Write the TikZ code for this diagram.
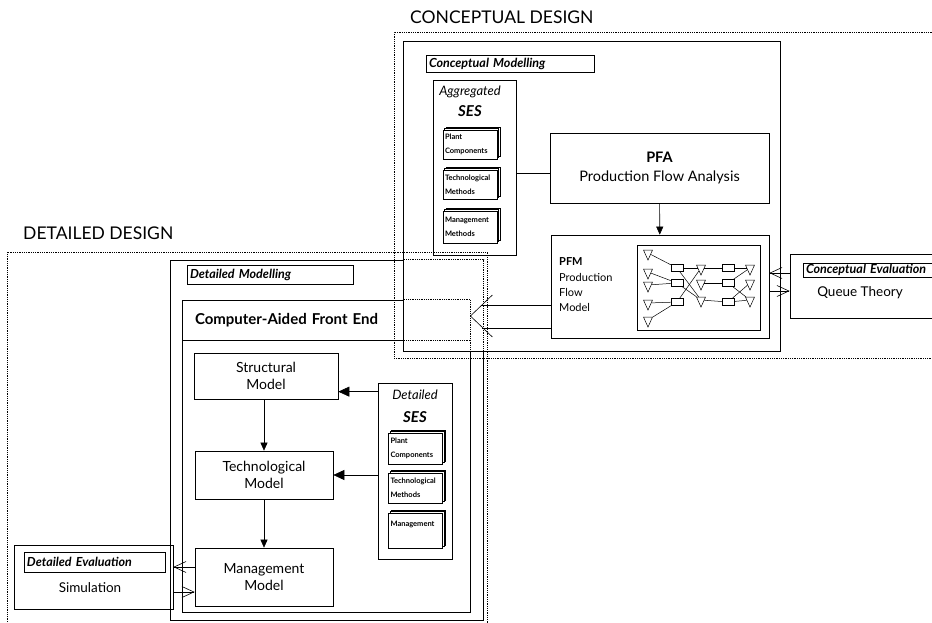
\documentclass[tikz,border=0pt]{standalone}
\usepackage{fontspec}
\setmainfont{Lato}
\usetikzlibrary{arrows.meta, positioning, shapes.geometric, shadows}

\begin{document}
\begin{tikzpicture}[x=1pt, y=-1pt,
  frame/.style={draw, line width=1pt, inner sep=0pt},
  box/.style={draw, line width=0.7pt, inner sep=0pt, align=center,
              font=\fontsize{14}{17}\selectfont},
  tag/.style={draw, line width=0.7pt, inner xsep=3pt, inner ysep=0pt,
              align=left, font=\fontsize{12.5}{13}\selectfont\bfseries\itshape},
  card/.style={draw, fill=white, line width=0.5pt,
               double copy shadow={shadow xshift=1.5pt, shadow yshift=1.5pt},
               inner xsep=2pt, inner ysep=0pt, text width=50pt, align=left,
               font=\fontsize{7.5}{14}\selectfont\bfseries},
  region/.style={draw, densely dotted, line width=0.8pt, inner sep=0pt},
  hidden/.style={densely dotted, line width=0.8pt},
  tri/.style={draw, isosceles triangle, shape border rotate=270,
              isosceles triangle stretches, minimum width=9, minimum height=10,
              inner sep=0pt, line width=0.5pt},
  sq/.style={draw, minimum width=12, minimum height=7, inner sep=0pt, line width=0.5pt},
  fillarrow/.style={-{Triangle[length=8pt, width=7pt]}, line width=0.6pt},
  bigarrow/.style={-{Triangle[length=11pt, width=10pt]}, line width=0.6pt},
  openarrow/.style={-{Straight Barb[length=12pt, width=11pt]}, line width=0.6pt},
  title/.style={anchor=west, inner sep=0pt, font=\fontsize{17.5}{19}\selectfont}
]
  \useasboundingbox (0,0) rectangle (932,623);
  \clip (0,0) rectangle (932,623);

  % detailed modelling
  \node[frame, minimum width=313, minimum height=360] (dmod) at (326.5,440) {};
  \node[tag, text width=160pt, minimum height=19] (dmodlbl) at (270,274.5) {Detailed Modelling};
  \node[draw, line width=0.8pt, minimum width=288, minimum height=312, inner sep=0pt] (fe) at (326,456) {};
  \node[draw, line width=0.8pt, minimum width=288, minimum height=40, inner xsep=13pt,
        text width=262pt, align=left, font=\fontsize{15}{17}\selectfont\bfseries]
        (fehead) at (326,320) {Computer-Aided Front End};
  \node[box, minimum width=144, minimum height=46] (struct) at (266,376) {Structural\\Model};
  \node[box, minimum width=138, minimum height=48] (tech) at (264,475) {Technological\\Model};
  \node[box, minimum width=138, minimum height=58] (mgmt) at (264,577) {Management\\Model};

  \node[draw, line width=0.7pt, minimum width=74, minimum height=176] (dses) at (415,471) {};
  \node[font=\fontsize{13}{15}\selectfont\itshape] (dsest) at (415,395) {Detailed};
  \node[font=\fontsize{15}{17}\selectfont\bfseries\itshape] (dsess) at (415,417) {SES};
  \node[card, minimum height=31] (dc1) at (415.5,448.5) {Plant\\Components};
  \node[card, minimum height=30] (dc2) at (415.5,488) {Technological\\Methods};
  \node[card, minimum height=35] (dc3) at (415.5,530.5) {Management\\ \mbox{}};

  \draw[fillarrow] (tech.north |- struct.south) -- (tech.north);
  \draw[fillarrow] (tech) -- (mgmt);
  \path ([yshift=-9pt]dses.north west) coordinate (s1);
  \draw[bigarrow] (s1) -- (s1 -| struct.east);
  \draw[bigarrow] (dses.west |- tech.east) -- (tech.east);

  % detailed evaluation
  \node[draw, line width=0.7pt, minimum width=159, minimum height=64] (sim) at (93.5,577) {};
  \node[tag, text width=135pt, minimum height=20] (simlbl) at (94.5,562) {Detailed Evaluation};
  \node[font=\fontsize{13.5}{15}\selectfont] (simtxt) at (90,588) {Simulation};
  \draw[openarrow] ([yshift=10pt]mgmt.west) -- ([yshift=10pt]sim.east);
  \draw[openarrow] ([yshift=-15pt]sim.east) -- ([yshift=-15pt]mgmt.west);

  % conceptual modelling
  \node[frame, fill=white, minimum width=377, minimum height=309] (cmod) at (591.5,196.5) {};
  \draw[hidden] (cmod.west |- dmod.north) -- (dmod.north east) -- (dmod.east |- cmod.south);
  \draw[hidden] (cmod.west |- fe.north) -- (fe.north east) -- (fe.east |- cmod.south);
  \draw[hidden] (cmod.west |- fehead.south) -- (fehead.south east);

  \node[tag, text width=162pt, minimum height=17] (cmodlbl) at (510,63.5) {Conceptual Modelling};
  \node[draw, line width=0.7pt, minimum width=83, minimum height=175] (aggses) at (474.5,167.5) {};
  \node[font=\fontsize{13}{15}\selectfont\itshape] (aggt) at (470,92) {Aggregated};
  \node[font=\fontsize{15}{17}\selectfont\bfseries\itshape] (aggs) at (470,111) {SES};
  \node[card, minimum height=29] (ac1) at (470,144.5) {Plant\\Components};
  \node[card, minimum height=29] (ac2) at (470,184.5) {Technological\\Methods};
  \node[card, minimum height=32] (ac3) at (470,227) {Management\\Methods};

  \node[box, minimum width=219, minimum height=70, font=\fontsize{14.5}{19}\selectfont]
        (pfa) at (659.5,168) {\textbf{PFA}\\Production Flow Analysis};
  \node[draw, line width=0.7pt, minimum width=218, minimum height=103] (pfm) at (660,286.5) {};
  \node[anchor=west, inner sep=0pt, align=left, font=\fontsize{11}{15.3}\selectfont]
        (pfmtxt) at (559,285) {\textbf{PFM}\\Production\\Flow\\Model};
  \path ([yshift=-6pt]aggses.east) coordinate (a1);
  \draw[line width=0.6pt] (a1) -- (a1 -| pfa.west);
  \draw[fillarrow] (pfa) -- (pfm);

  % production flow net
  \node[draw, line width=0.6pt, minimum width=123, minimum height=85] (net) at (698.5,287.5) {};
  \foreach \i/\y in {1/253, 2/272, 3/285, 4/303, 5/320}
    \node[tri] (ta\i) at (648,\y) {};
  \foreach \i/\y in {1/268, 2/283, 3/302} {
    \node[sq] (ra\i) at (677,\y) {};
    \node[sq] (rb\i) at (728,\y) {};
  }
  \foreach \i/\y in {1/268, 2/283, 3/300} {
    \node[tri] (tb\i) at (701,\y) {};
    \node[tri] (tc\i) at (750,\y) {};
  }
  \foreach \a/\b in {ta1/ra1, ta2/ra2, ta3/ra2, ta4/ra3, ta5/ra3,
                     ra1/tb1, ra1/tb3, ra2/tb3, ra3/tb1,
                     tb1/rb1, tb2/rb2, tb3/rb3,
                     rb1/tc1, rb2/tc1, rb2/tc3, rb3/tc2, rb3/tc3}
    \draw[line width=0.5pt] (\a) -- (\b);

  % conceptual evaluation
  \node[draw, line width=0.7pt, minimum width=170, minimum height=64] (ceval) at (875,286.5) {};
  \node[tag, text width=151pt, minimum height=14] (cevallbl) at (881.5,270) {Conceptual Evaluation};
  \node[font=\fontsize{13.5}{15}\selectfont] (cevaltxt) at (860,293) {Queue Theory};
  \draw[openarrow] ([yshift=13.5pt]ceval.west) -- ([yshift=13.5pt]pfm.east);
  \draw[openarrow] ([yshift=-4.5pt]pfm.east) -- ([yshift=-4.5pt]ceval.west);

  % PFM to front end
  \coordinate (fetip) at ([yshift=4pt]fehead.east);
  \path (fetip) ++(11,-11) coordinate (fe1) (fetip) ++(12,12) coordinate (fe2);
  \draw[line width=0.6pt] (fe1 -| pfm.west) -- (fe1);
  \draw[line width=0.6pt] (fe2 -| pfm.west) -- (fe2);
  \draw[line width=0.6pt] (fetip) -- ++(22,-21) (fetip) -- ++(22,21);

  % design regions
  \node[region, minimum width=566, minimum height=326] (cdes) at (677,195) {};
  \node[region, minimum width=480, minimum height=388] (ddes) at (247,446) {};
  \node[title] (cdestitle) at (410,17) {CONCEPTUAL DESIGN};
  \node[title] (ddestitle) at (23,233) {DETAILED DESIGN};
\end{tikzpicture}
\end{document}
